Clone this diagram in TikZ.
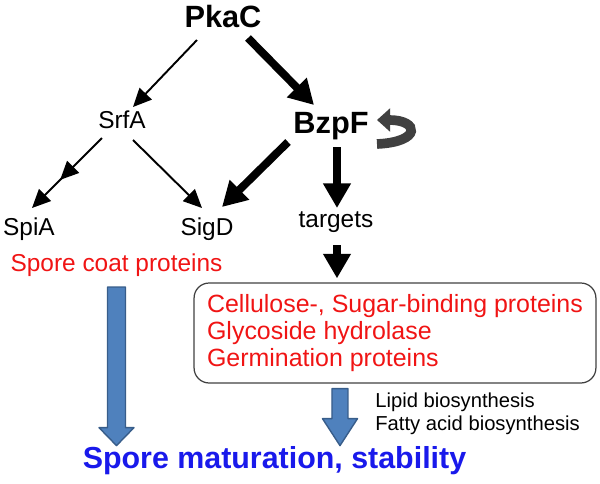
\documentclass[tikz,border=0pt]{standalone}
\usepackage{fontspec}
\setmainfont{Liberation Sans}
\usepackage{tikz}
\usetikzlibrary{arrows.meta,calc,decorations.markings}
\definecolor{txtred}{RGB}{240,20,20}
\definecolor{txtblue}{RGB}{25,25,235}
\definecolor{arrfill}{RGB}{79,129,189}
\definecolor{arrline}{RGB}{56,93,138}
\definecolor{loopgray}{RGB}{64,64,64}
\newcommand{\bluearrow}[4]{\draw[bigarr] ($(#1)+(-#3,0)$) -- ($(#1)+(#3,0)$) -- ($(#2)+(#3,-#4)$) -- ($(#2)+(17.5,-#4)$) -- (#2) -- ($(#2)+(-17.5,-#4)$) -- ($(#2)+(-#3,-#4)$) -- cycle;}

\begin{document}
\begin{tikzpicture}[x=0.02cm,y=-0.02cm]
		\tikzstyle{every node}+=[inner sep=0pt]
		\tikzstyle{lbl}=[font=\fontsize{13.9}{16}\selectfont, anchor=base]
		\tikzstyle{head}=[font=\fontsize{17.5}{20}\selectfont\bfseries, anchor=base]
		\tikzstyle{small}=[font=\fontsize{11.5}{13}\selectfont, anchor=base west]
		\tikzstyle{thinarr}=[line width=1.1pt, -{Triangle[length=10.5pt,width=9.5pt]}]
		\tikzstyle{thickarr}=[line width=4.5pt, -{Triangle[length=14pt,width=15pt]}]
		\tikzstyle{bigarr}=[fill=arrfill, draw=arrline, line width=0.8pt, line join=round]
		\useasboundingbox (0,0) rectangle (600,484);
		\node [head] (PkaC) at (223,27) {PkaC};
		\node [lbl] (SrfA) at (122,128) {SrfA};
		\node [head] (BzpF) at (331,133) {BzpF};
		\node [lbl] (SpiA) at (29,235) {SpiA};
		\node [lbl] (SigD) at (207,235) {SigD};
		\node [lbl] (targets) at (336,227) {targets};
		\node [lbl, text=txtred] (coat) at (116.5,271) {Spore coat proteins};
		\node [draw=black!75, line width=0.7pt, rounded corners=0.3cm, text=txtred, align=left, inner xsep=0.26cm, minimum height=2cm, font=\fontsize{14.2}{15.6}\selectfont] (box) at (395,333) {Cellulose-, Sugar-binding proteins\\Glycoside hydrolase\\Germination proteins};
		\node [small] (lipid) at (375,407) {Lipid biosynthesis};
		\node [small] (fatty) at (375,430) {Fatty acid biosynthesis};
		\node [font=\fontsize{17.3}{20}\selectfont\bfseries, text=txtblue, anchor=base] (matur) at (274.5,468) {Spore maturation, stability};
		\draw [thinarr] ($(PkaC.base)+(-26,13)$) -- ($(SrfA.base)+(11,-21)$);
		\draw [thickarr] ($(PkaC.base)+(25,11)$) -- ($(BzpF.base)+(-17,-28)$);
		\draw [thinarr, decoration={markings, mark=at position 0.6 with {\arrow{Triangle[length=10.5pt,width=9.5pt]}}}, postaction={decorate}] ($(SrfA.base)+(-20,10)$) -- ($(SpiA.base)+(3,-27)$);
		\draw [thinarr] ($(SrfA.base)+(11,12)$) -- ($(SigD.base)+(-5,-27)$);
		\draw [thickarr] ($(BzpF.base)+(-43,9)$) -- ($(SigD.base)+(15,-28)$);
		\draw [thickarr] ($(BzpF.base)+(6,14)$) -- ($(targets.base)+(1,-19)$);
		\draw [thickarr] ($(targets.base)+(1,18)$) -- ($(box.north)+(-58,-4)$);
		\coordinate (loopA) at ($(BzpF.base)+(46,11)$);
		\coordinate (loopB) at ($(BzpF.base)+(46,-13)$);
		\draw [loopgray, line width=5.5pt, -{Triangle[length=7.5pt,width=13pt]}] (loopA) .. controls ($(loopA)+(45,-2)$) and ($(loopB)+(42,0)$) .. (loopB);
		\coordinate (la) at ($(coat.base)+(0,16)$);
		\coordinate (lb) at (la |- matur.north);
		\bluearrow{la}{lb}{9}{18}
		\coordinate (ra) at ($(box.south)+(-55,5)$);
		\coordinate (rb) at (ra |- matur.north);
		\bluearrow{ra}{rb}{8}{27}
\end{tikzpicture}
\end{document}
